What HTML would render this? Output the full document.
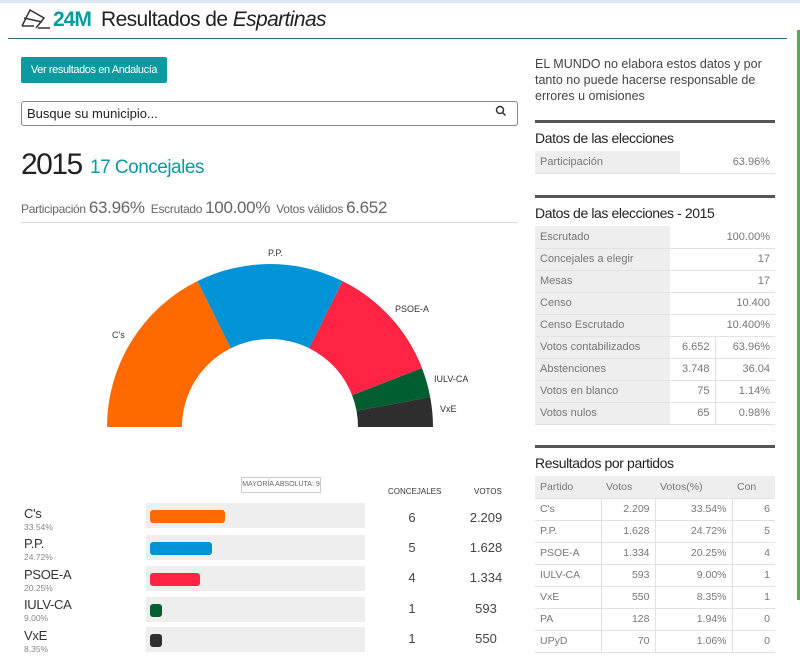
<!DOCTYPE html>
<html><head><meta charset="utf-8"><style>
*{margin:0;padding:0;box-sizing:border-box}
body{width:800px;height:656px;background:#fff;position:relative;overflow:hidden;font-family:"Liberation Sans",sans-serif;color:#333}
.a{position:absolute;white-space:nowrap}
.sec{position:absolute;left:535px;width:240px;border-top:3px solid #555}
.sec h3{font-weight:normal;font-size:14px;color:#222;margin-top:7px;height:21px;letter-spacing:-0.4px}
table{border-collapse:collapse;width:240px;font-size:11px;color:#777}
td{height:22px;border-bottom:1px solid #e2e2e2;padding:0 5px}
td.l{background:#eeeeee}
td.r{text-align:right}
.row{position:absolute;left:146px;width:219px;height:25px;background:#eeeeee}
.bar{position:absolute;left:4px;top:7px;height:13px;border-radius:3px}
.pn{position:absolute;left:24px;font-size:13px;color:#333;letter-spacing:-0.3px}
.pp{position:absolute;left:24px;font-size:8.5px;color:#888}
.cv{position:absolute;font-size:13px;color:#444;text-align:center}
</style></head><body>
<div class="a" style="left:0;top:0;width:800px;height:3px;background:#dbe8f2"></div>
<div class="a" style="left:797px;top:30px;width:3px;height:570px;background:#4caf50"></div>
<svg class="a" style="left:20px;top:8px" width="32" height="22" viewBox="0 0 32 22"><path d="M2 18 L10 2 L24 10 L16 20 M2 18 H14 M18 20 H30 M4 10 L22 14" stroke="#333" stroke-width="1.5" fill="none"/></svg>
<div class="a" style="left:53px;top:8px;font-size:21px;color:#0a9aa0;font-weight:bold;letter-spacing:-1px">24M</div>
<div class="a" style="left:101px;top:8px;font-size:21px;color:#222;letter-spacing:-0.6px">Resultados de <i>Espartinas</i></div>
<div class="a" style="left:8px;top:38px;width:779px;height:1px;background:#2a6b80"></div>
<div class="a" style="left:21px;top:57px;width:146px;height:26px;background:#0a9aa0;border-radius:2px;color:#fff;font-size:11px;line-height:26px;text-align:center;letter-spacing:-0.4px">Ver resultados en Andalucía</div>
<div class="a" style="left:21px;top:101px;width:497px;height:25px;border:1px solid #888;border-radius:3px;font-size:13px;line-height:23px;padding-left:5px;color:#222">Busque su municipio...</div>
<svg class="a" style="left:495px;top:105px" width="12" height="12"><circle cx="5" cy="5" r="3.5" stroke="#333" stroke-width="1.5" fill="none"/><path d="M7.5 7.5 L10.5 10.5" stroke="#333" stroke-width="1.5"/></svg>
<div class="a" style="left:21px;top:148px;font-size:30px;color:#222;letter-spacing:-1.5px">2015</div>
<div class="a" style="left:90px;top:157px;font-size:19px;color:#0a9aa0;letter-spacing:-0.5px">17 Concejales</div>
<div class="a" style="left:21px;top:198px;font-size:12px;color:#666;letter-spacing:-0.3px">Participación <span style="font-size:17px">63.96%</span> &nbsp;Escrutado <span style="font-size:17px">100.00%</span> &nbsp;Votos válidos <span style="font-size:17px">6.652</span></div>
<div class="a" style="left:21px;top:222px;width:497px;height:1px;background:#ddd"></div>
<svg class="a" style="left:0;top:0" width="520" height="440">
<path d="M107 427 A163 163 0 0 1 197.4 281.1 L230.8 348.2 A88 88 0 0 0 182 427 Z" fill="#ff6a00"/>
<path d="M197.4 281.1 A163 163 0 0 1 342.6 281.1 L309.2 348.2 A88 88 0 0 0 230.8 348.2 Z" fill="#0093d6"/>
<path d="M342.6 281.1 A163 163 0 0 1 422 368.1 L352.1 395.2 A88 88 0 0 0 309.2 348.2 Z" fill="#ff2443"/>
<path d="M422 368.1 A163 163 0 0 1 430.2 397.1 L356.5 410.8 A88 88 0 0 0 352.1 395.2 Z" fill="#005e30"/>
<path d="M430.2 397.1 A163 163 0 0 1 433 427 L358 427 A88 88 0 0 0 356.5 410.8 Z" fill="#2e2e2e"/>
<g font-size="9" fill="#333" font-family="Liberation Sans,sans-serif">
<text x="112" y="338">C's</text><text x="268" y="256">P.P.</text><text x="395" y="312">PSOE-A</text><text x="434" y="382">IULV-CA</text><text x="440" y="412">VxE</text></g>
</svg>
<div class="a" style="left:241px;top:477px;width:80px;height:16px;border:1px solid #ccc;font-size:7px;line-height:14px;text-align:center;color:#666;background:#fff">MAYORÍA ABSOLUTA: 9</div>
<div class="a" style="left:388px;top:487px;font-size:8px;color:#333">CONCEJALES</div>
<div class="a" style="left:474px;top:487px;font-size:8px;color:#333">VOTOS</div>
<div class="row" style="top:503px"><div class="bar" style="width:75px;background:#ff6a00"></div></div>
<div class="row" style="top:535px"><div class="bar" style="width:62px;background:#0093d6"></div></div>
<div class="row" style="top:566px"><div class="bar" style="width:50px;background:#ff2443"></div></div>
<div class="row" style="top:597px"><div class="bar" style="width:12px;background:#005e30"></div></div>
<div class="row" style="top:627px"><div class="bar" style="width:12px;background:#2e2e2e"></div></div>
<div class="pn" style="top:506px">C's</div><div class="pp" style="top:522px">33.54%</div>
<div class="pn" style="top:536px">P.P.</div><div class="pp" style="top:552px">24.72%</div>
<div class="pn" style="top:567px">PSOE-A</div><div class="pp" style="top:583px">20.25%</div>
<div class="pn" style="top:597px">IULV-CA</div><div class="pp" style="top:613px">9.00%</div>
<div class="pn" style="top:628px">VxE</div><div class="pp" style="top:644px">8.35%</div>
<div class="cv" style="left:400px;width:24px;top:510px">6</div><div class="cv" style="left:466px;width:40px;top:510px">2.209</div>
<div class="cv" style="left:400px;width:24px;top:540px">5</div><div class="cv" style="left:466px;width:40px;top:540px">1.628</div>
<div class="cv" style="left:400px;width:24px;top:570px">4</div><div class="cv" style="left:466px;width:40px;top:570px">1.334</div>
<div class="cv" style="left:400px;width:24px;top:601px">1</div><div class="cv" style="left:466px;width:40px;top:601px">593</div>
<div class="cv" style="left:400px;width:24px;top:631px">1</div><div class="cv" style="left:466px;width:40px;top:631px">550</div>
<div class="a" style="left:535px;top:56px;font-size:12.5px;line-height:16px;color:#444;white-space:normal;width:245px">EL MUNDO no elabora estos datos y por tanto no puede hacerse responsable de errores u omisiones</div>
<div class="sec" style="top:120px"><h3>Datos de las elecciones</h3>
<table><tr><td class="l" style="width:145px">Participación</td><td class="r">63.96%</td></tr></table></div>
<div class="sec" style="top:195px"><h3>Datos de las elecciones - 2015</h3>
<table>
<tr><td class="l" style="width:135px">Escrutado</td><td colspan="2" class="r">100.00%</td></tr>
<tr><td class="l">Concejales a elegir</td><td colspan="2" class="r">17</td></tr>
<tr><td class="l">Mesas</td><td colspan="2" class="r">17</td></tr>
<tr><td class="l">Censo</td><td colspan="2" class="r">10.400</td></tr>
<tr><td class="l">Censo Escrutado</td><td colspan="2" class="r">10.400%</td></tr>
<tr><td class="l">Votos contabilizados</td><td class="r" style="width:45px;border-right:1px solid #e2e2e2">6.652</td><td class="r">63.96%</td></tr>
<tr><td class="l">Abstenciones</td><td class="r" style="border-right:1px solid #e2e2e2">3.748</td><td class="r">36.04</td></tr>
<tr><td class="l">Votos en blanco</td><td class="r" style="border-right:1px solid #e2e2e2">75</td><td class="r">1.14%</td></tr>
<tr><td class="l">Votos nulos</td><td class="r" style="border-right:1px solid #e2e2e2">65</td><td class="r">0.98%</td></tr>
</table></div>
<div class="sec" style="top:445px"><h3>Resultados por partidos</h3>
<table style="font-size:10.5px">
<tr style="background:#eee"><td style="width:66px">Partido</td><td style="width:54px">Votos</td><td style="width:77px">Votos(%)</td><td>Con</td></tr>
<tr><td>C's</td><td class="r" style="border-left:1px solid #e2e2e2;border-right:1px solid #e2e2e2">2.209</td><td class="r" style="border-right:1px solid #e2e2e2">33.54%</td><td class="r">6</td></tr>
<tr><td>P.P.</td><td class="r" style="border-left:1px solid #e2e2e2;border-right:1px solid #e2e2e2">1.628</td><td class="r" style="border-right:1px solid #e2e2e2">24.72%</td><td class="r">5</td></tr>
<tr><td>PSOE-A</td><td class="r" style="border-left:1px solid #e2e2e2;border-right:1px solid #e2e2e2">1.334</td><td class="r" style="border-right:1px solid #e2e2e2">20.25%</td><td class="r">4</td></tr>
<tr><td>IULV-CA</td><td class="r" style="border-left:1px solid #e2e2e2;border-right:1px solid #e2e2e2">593</td><td class="r" style="border-right:1px solid #e2e2e2">9.00%</td><td class="r">1</td></tr>
<tr><td>VxE</td><td class="r" style="border-left:1px solid #e2e2e2;border-right:1px solid #e2e2e2">550</td><td class="r" style="border-right:1px solid #e2e2e2">8.35%</td><td class="r">1</td></tr>
<tr><td>PA</td><td class="r" style="border-left:1px solid #e2e2e2;border-right:1px solid #e2e2e2">128</td><td class="r" style="border-right:1px solid #e2e2e2">1.94%</td><td class="r">0</td></tr>
<tr><td>UPyD</td><td class="r" style="border-left:1px solid #e2e2e2;border-right:1px solid #e2e2e2">70</td><td class="r" style="border-right:1px solid #e2e2e2">1.06%</td><td class="r">0</td></tr>
</table></div>
</body></html>
